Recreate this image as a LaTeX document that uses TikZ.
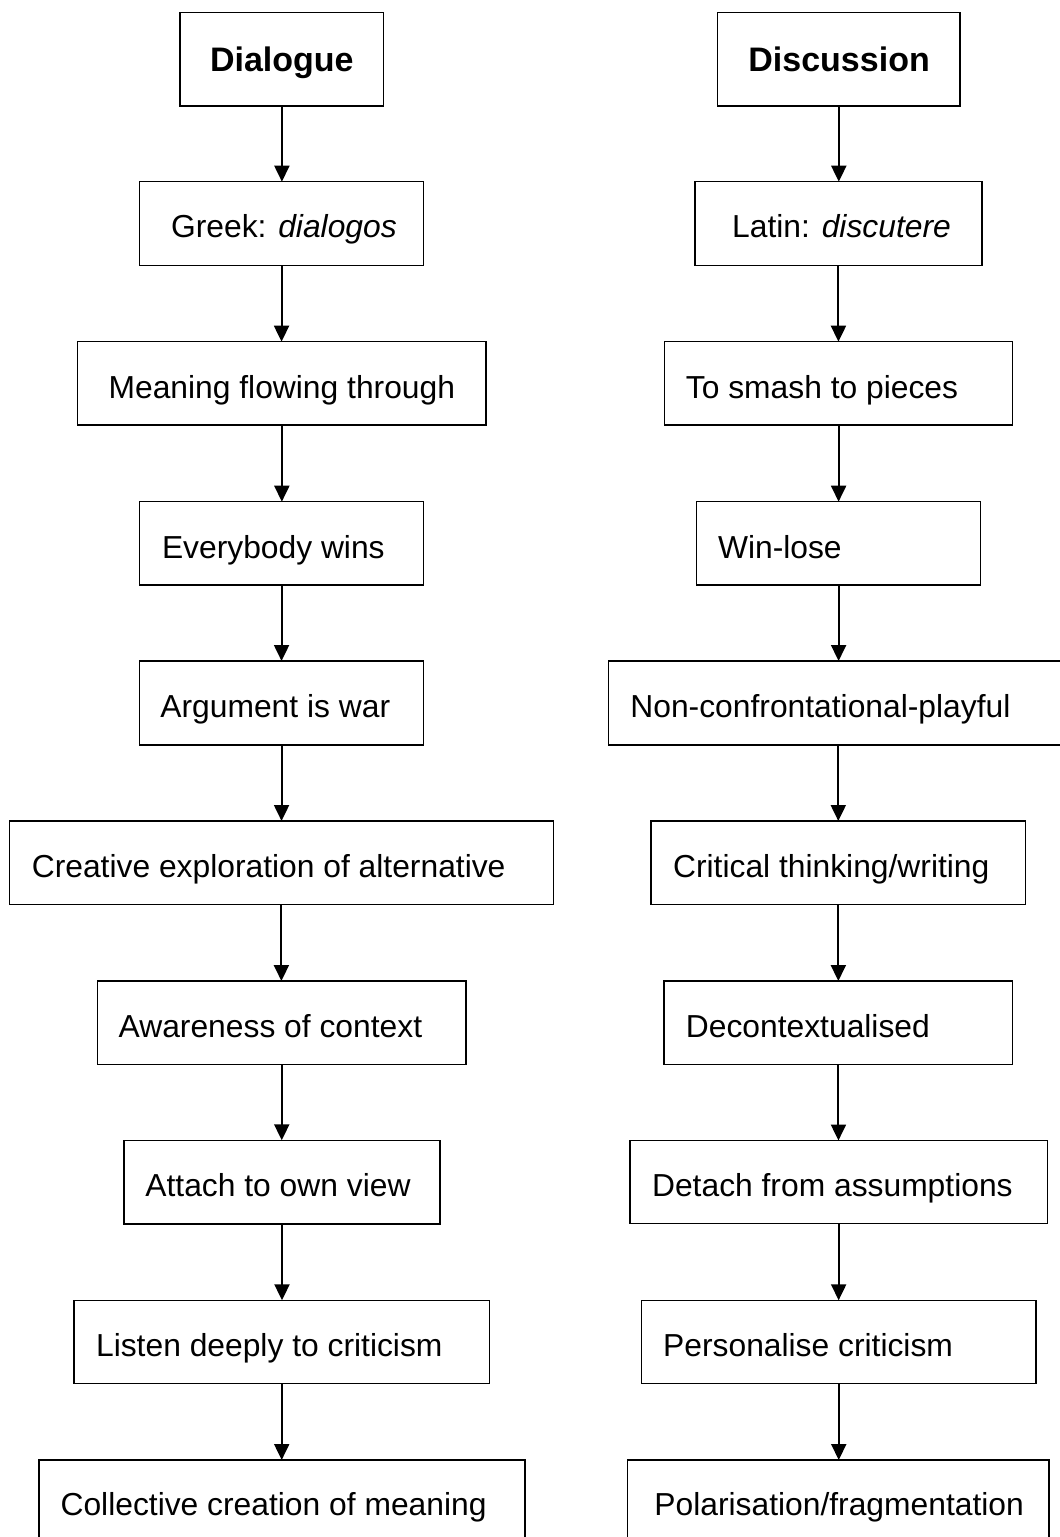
\documentclass[tikz,border=0pt]{standalone}
\usepackage{fontspec}
\setmainfont{Liberation Sans}
\usetikzlibrary{arrows.meta}
\tikzset{
  boxst/.style={draw=black, line width=0.75pt, rectangle, inner sep=0pt, outer sep=0pt},
  txt/.style={anchor=base west, inner sep=0pt, font=\fontsize{15.9pt}{19pt}\selectfont},
  ttl/.style={anchor=base west, inner sep=0pt, font=\fontsize{17pt}{20pt}\selectfont\bfseries},
  arr/.style={line width=1pt, -{Triangle[length=8pt,width=7.5pt]}},
}
% name, L, T, R, B, text x, baseline y, style, text
\newcommand\mkbox[9]{%
  \node[boxst, minimum width={(#4-#2)*0.5pt}, minimum height={(#5-#3)*0.5pt}] (#1) at ({(#2+#4)/2},{(#3+#5)/2}) {};
  \node[#8] (#1t) at (#6,#7) {#9};}
\begin{document}
\begin{tikzpicture}[x=0.5pt, y=-0.5pt]
\useasboundingbox (0,0) rectangle (1060,1537);
\clip (0,0) rectangle (1060,1537);
% left column
\mkbox{L1}{180.2}{12.7}{383.6}{106}{209.6}{71}{ttl}{Dialogue}
\mkbox{L2}{139.6}{181.7}{423.5}{265.7}{170.7}{237.7}{txt}{Greek: \textit{dialogos}}
\mkbox{L3}{77.7}{341.7}{486}{425}{108.2}{398.3}{txt}{Meaning flowing through}
\mkbox{L4}{139.6}{501.7}{423.5}{585}{161.6}{558.3}{txt}{Everybody wins}
\mkbox{L5}{139.6}{661}{423.5}{745}{160}{717.3}{txt}{Argument is war}
\mkbox{L6}{9.5}{821}{553.3}{904.3}{31.4}{877.3}{txt}{Creative exploration of alternative}
\mkbox{L7}{97.7}{981}{465.8}{1064.3}{118.3}{1037.3}{txt}{Awareness of context}
\mkbox{L8}{124}{1140.3}{440}{1224}{145}{1196.7}{txt}{Attach to own view}
\mkbox{L9}{74}{1300.3}{489.4}{1383.7}{95.7}{1356.7}{txt}{Listen deeply to criticism}
\mkbox{L10}{38.9}{1460}{524.9}{1544}{60.2}{1515}{txt}{Collective creation of meaning}
% right column
\mkbox{R1}{717.6}{12.7}{960}{106}{748}{71}{ttl}{Discussion}
\mkbox{R2}{695}{181.7}{981.9}{265.7}{731.8}{237.7}{txt}{Latin: \textit{discutere}}
\mkbox{R3}{664.5}{341.7}{1012.7}{425}{685.5}{398.3}{txt}{To smash to pieces}
\mkbox{R4}{696.6}{501.7}{980.6}{585}{717.6}{558.3}{txt}{Win-lose}
\mkbox{R5}{608.3}{661}{1068.3}{745}{630}{717.3}{txt}{Non-confrontational-playful}
\mkbox{R6}{651}{821}{1025.7}{904.3}{672.7}{877.3}{txt}{Critical thinking/writing}
\mkbox{R7}{664.2}{981}{1012.7}{1064.3}{685.5}{1037.3}{txt}{Decontextualised}
\mkbox{R8}{630}{1140.5}{1047.3}{1223.5}{651.7}{1196.7}{txt}{Detach from assumptions}
\mkbox{R9}{641.5}{1300.3}{1036}{1383.7}{662.8}{1356.7}{txt}{Personalise criticism}
\mkbox{R10}{627.7}{1460}{1049.2}{1544}{654}{1515}{txt}{Polarisation/fragmentation}
% connectors
\foreach \a/\b in {1/2,2/3,3/4,4/5,5/6,6/7,7/8,8/9,9/10}{
  \draw[arr] (L\a.south) -- (L\a.south |- L\b.north);
  \draw[arr] (R\a.south) -- (R\a.south |- R\b.north);
}
\end{tikzpicture}
\end{document}
